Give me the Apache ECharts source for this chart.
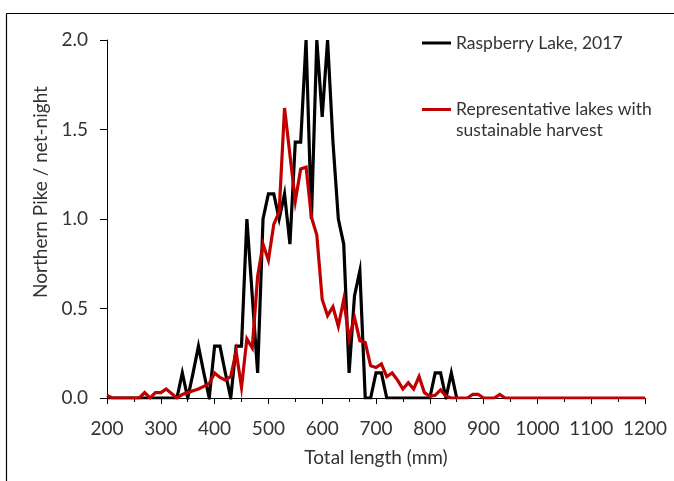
<!DOCTYPE html>
<html>
<head>
<meta charset="utf-8">
<script src="https://cdn.jsdelivr.net/npm/echarts@6/dist/echarts.min.js"></script>
<style>
html,body{margin:0;padding:0;background:#fff;}
#chart{width:674px;height:481px;}
</style>
</head>
<body>
<div id="chart"></div>
<script>
// Total length (mm), 10 mm classes
const lengths = [200,210,220,230,240,250,260,270,280,290,
  300,310,320,330,340,350,360,370,380,390,
  400,410,420,430,440,450,460,470,480,490,
  500,510,520,530,540,550,560,570,580,590,
  600,610,620,630,640,650,660,670,680,690,
  700,710,720,730,740,750,760,770,780,790,
  800,810,820,830,840,850,860,870,880,890,
  900,910,920,930,940,950,960,970,980,990,
  1000,1010,1020,1030,1040,1050,1060,1070,1080,1090,
  1100,1110,1120,1130,1140,1150,1160,1170,1180,1190,1200];

// Raspberry Lake, 2017 (200..850 mm)
const raspberry = [0,0,0,0,0,0,0,0,0,0,
  0,0,0,0,0.14,0,0.14,0.29,0.14,0,
  0.29,0.29,0.14,0,0.29,0.29,1.0,0.57,0.14,1.0,
  1.14,1.14,1.0,1.14,0.86,1.43,1.43,2.0,1.0,2.0,
  1.57,2.0,1.43,1.0,0.86,0.14,0.57,0.71,0,0,
  0.14,0.14,0,0,0,0,0,0,0,0,
  0,0.14,0.14,0,0.14,0];

// Representative lakes with sustainable harvest (200..1200 mm)
const representative = [0.015,0,0,0,0,0,0,0.03,0,0.03,
  0.03,0.05,0.025,0,0.02,0.03,0.04,0.05,0.065,0.08,
  0.14,0.115,0.10,0.12,0.26,0.06,0.33,0.28,0.68,0.86,
  0.77,0.97,1.04,1.62,1.36,1.10,1.28,1.29,1.01,0.91,
  0.55,0.46,0.51,0.40,0.55,0.33,0.45,0.32,0.31,0.18,
  0.17,0.19,0.12,0.14,0.10,0.05,0.085,0.05,0.12,0.03,
  0.01,0.015,0.045,0.01,0,0,0,0,0.02,0.02,
  0,0,0,0.02,0,0,0,0,0,0,
  0,0,0,0,0,0,0,0,0,0,
  0,0,0,0,0,0,0,0,0,0,0];

const seriesNames = ['Raspberry Lake, 2017', 'Representative lakes with\nsustainable harvest'];
const xTitle = 'Total length (mm)';
const yTitle = 'Northern Pike / net-night';

const FONT = 'Lato';
const TXT = '#333333';

function pairs(vals){ return vals.map((v,i)=>[lengths[i], v]); }

const chart = echarts.init(document.getElementById('chart'), null, {renderer:'canvas'});
chart.setOption({
  backgroundColor:'#ffffff',
  animation:false,
  textStyle:{fontFamily:FONT},
  grid:{left:107, right:29, top:40, bottom:83, containLabel:false},
  graphic:[
    {type:'line', shape:{x1:6.5,y1:13.5,x2:674,y2:13.5}, style:{stroke:'#000',lineWidth:1.2}, silent:true},
    {type:'line', shape:{x1:6.5,y1:13.5,x2:6.5,y2:481}, style:{stroke:'#000',lineWidth:1.2}, silent:true}
  ],
  legend:[
    {
      data:[{name:seriesNames[0], icon:'path://M0,0h0.01v0.01h-0.01zM0,10.5h29v3h-29zM0,24h0.01v0.01h-0.01z'}],
      left:422, top:31, padding:0, itemWidth:29, itemHeight:24, itemGap:0,
      selectedMode:false,
      textStyle:{fontFamily:FONT, fontSize:17.5, color:TXT}
    },
    {
      data:[{name:seriesNames[1], icon:'path://M0,0h29v3h-29zM0,24h0.01v0.01h-0.01z'}],
      left:422, top:99, padding:0, itemWidth:29, itemHeight:24, itemGap:0,
      selectedMode:false,
      textStyle:{fontFamily:FONT, fontSize:17.5, color:TXT, lineHeight:21}
    }
  ],
  xAxis:{
    type:'value', min:200, max:1200, interval:100,
    name:xTitle, nameLocation:'middle', nameGap:50,
    nameTextStyle:{fontFamily:FONT, fontSize:19, color:TXT},
    axisLine:{show:true, onZero:false, lineStyle:{color:'#000', width:1}},
    axisTick:{show:true, inside:false, length:6, lineStyle:{color:'#000'}},
    minorTick:{show:true, splitNumber:2, length:4, lineStyle:{color:'#000'}},
    axisLabel:{fontFamily:FONT, fontSize:19, color:TXT, margin:21, formatter:v=>String(v)},
    splitLine:{show:false}
  },
  yAxis:{
    type:'value', min:0, max:2, interval:0.5,
    name:yTitle, nameLocation:'middle', nameGap:56, nameRotate:90,
    nameTextStyle:{fontFamily:FONT, fontSize:19, color:TXT, padding:[0,0,0,54]},
    axisLine:{show:true, lineStyle:{color:'#000', width:1}},
    axisTick:{show:true, inside:false, length:7, lineStyle:{color:'#000'}},
    axisLabel:{fontFamily:FONT, fontSize:19, color:TXT, margin:19, formatter:v=>v.toFixed(1)},
    splitLine:{show:false}
  },
  series:[
    {
      name:seriesNames[0], type:'line', data:pairs(raspberry),
      showSymbol:false, symbol:'none',
      lineStyle:{color:'#000000', width:3.2, join:'miter'},
      itemStyle:{color:'#000000'},
      z:2
    },
    {
      name:seriesNames[1], type:'line', data:pairs(representative),
      showSymbol:false, symbol:'none',
      lineStyle:{color:'#C00000', width:3.2, join:'miter'},
      itemStyle:{color:'#C00000'},
      z:3
    }
  ]
});
</script>
</body>
</html>
